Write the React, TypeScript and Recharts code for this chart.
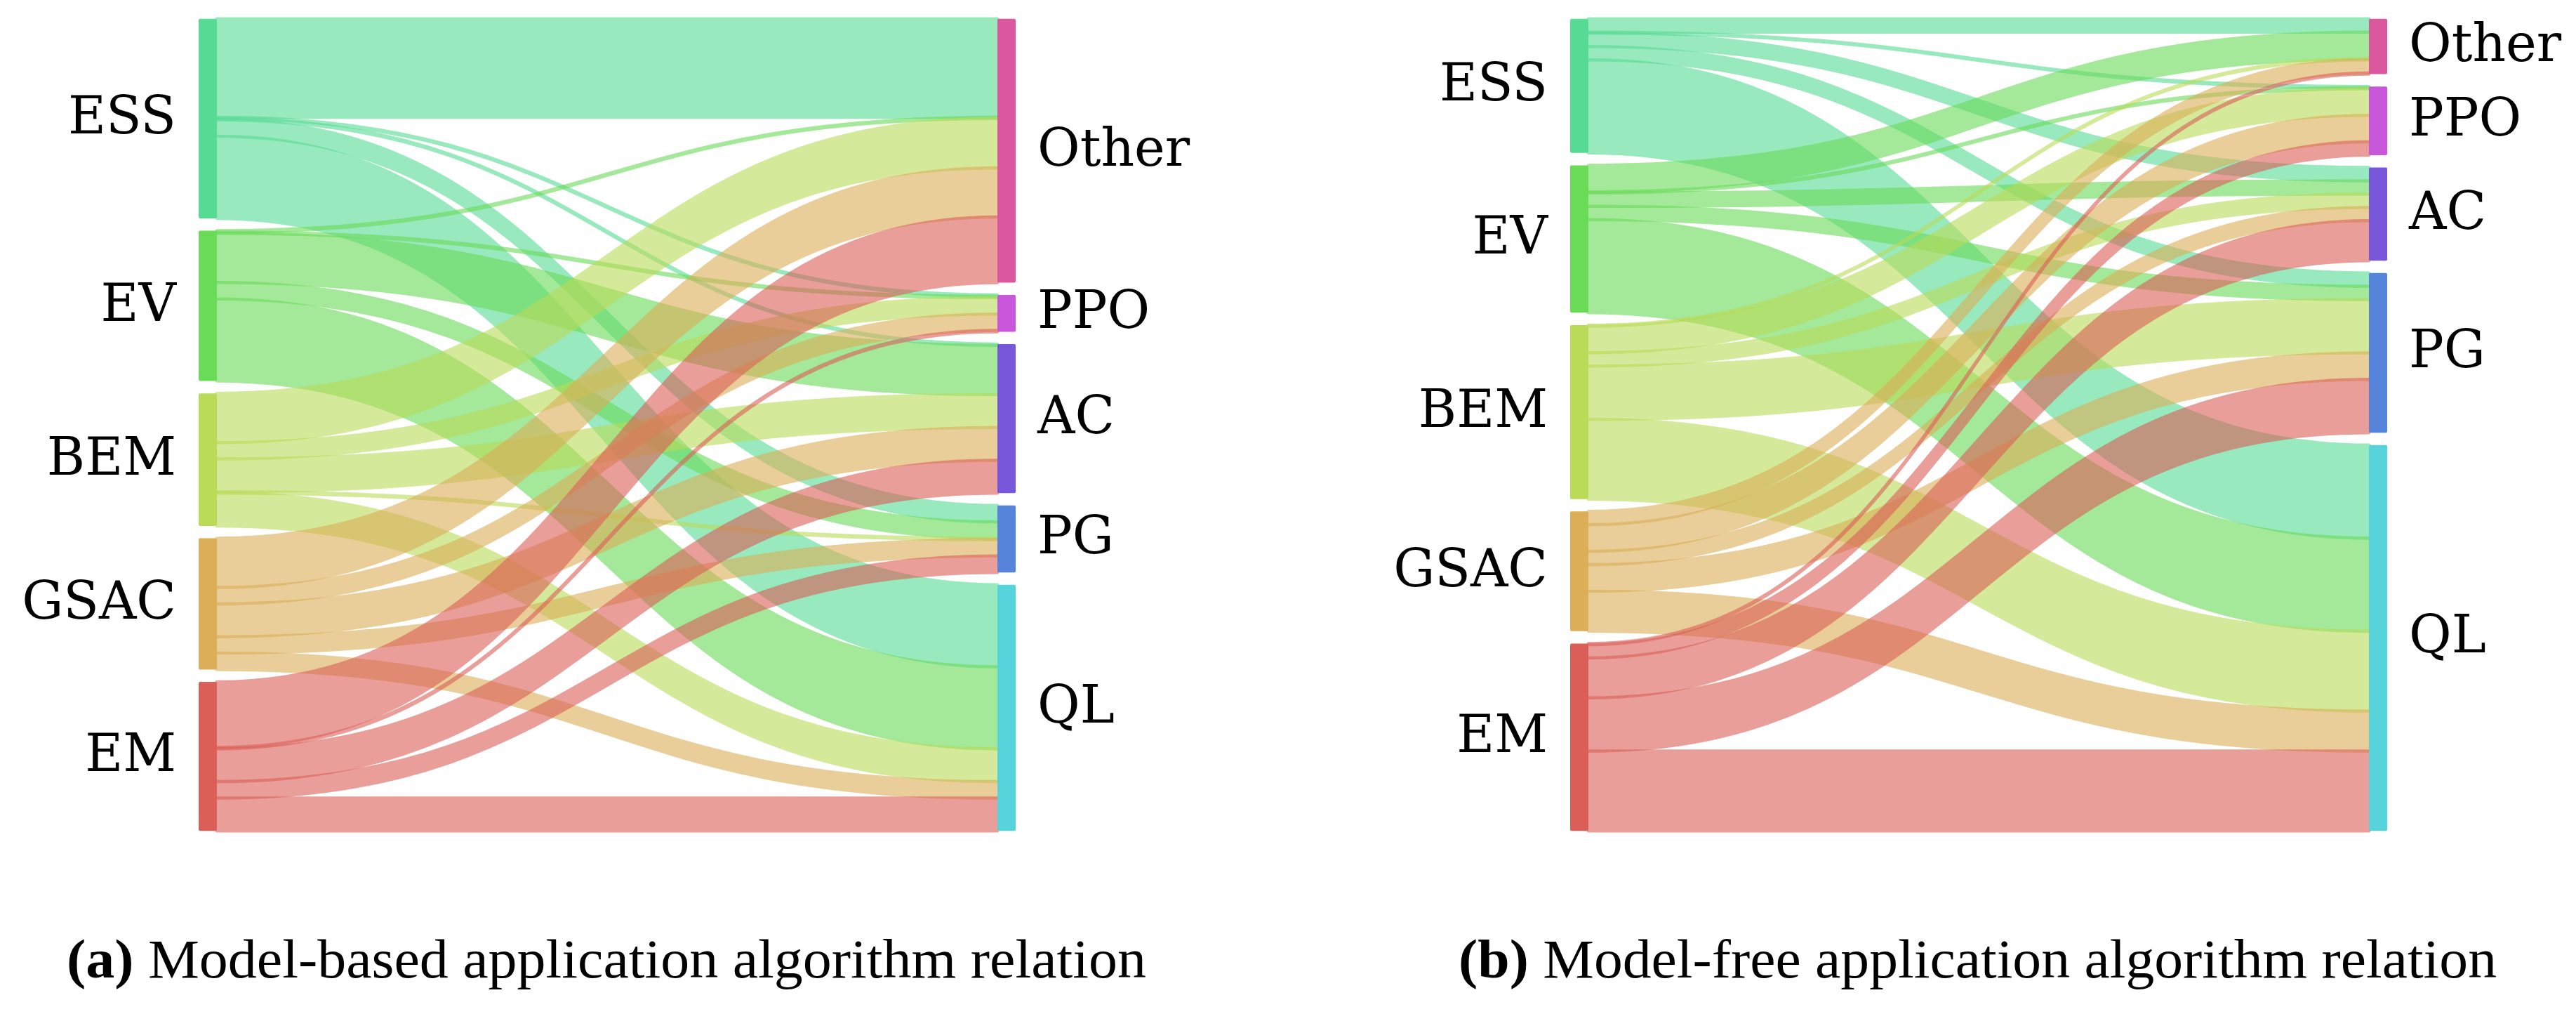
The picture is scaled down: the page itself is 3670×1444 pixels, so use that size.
import React from 'react';
import { Sankey } from 'recharts';

// Node categories
const SOURCES = ['ESS', 'EV', 'BEM', 'GSAC', 'EM'];
const TARGETS = ['Other', 'PPO', 'AC', 'PG', 'QL'];
const SOURCE_COLORS = ['#57db94', '#69db57', '#b9db57', '#dbae57', '#db5f57'];
const TARGET_COLORS = ['#db579e', '#c957db', '#7957db', '#5784db', '#57d3db'];

// Flow values: rows = application (source), columns = algorithm (target: Other, PPO, AC, PG, QL)
const MB_ESS = [6, 0.08, 0.08, 1, 5];
const MB_EV = [0.08, 0.08, 3, 1, 5];
const MB_BEM = [3, 1, 2, 0.08, 2];
const MB_GSAC = [3, 1, 2, 1, 1];
const MB_EM = [4, 0.08, 2, 1, 2];

const MF_ESS = [1, 0.08, 1, 1, 7];
const MF_EV = [2, 0.08, 1, 1, 7];
const MF_BEM = [0.08, 2, 1, 4, 6];
const MF_GSAC = [1, 2, 1, 2, 3];
const MF_EM = [0.08, 1, 3, 4, 6];

const MODEL_BASED = [MB_ESS, MB_EV, MB_BEM, MB_GSAC, MB_EM];
const MODEL_FREE = [MF_ESS, MF_EV, MF_BEM, MF_GSAC, MF_EM];

const CAPTION_TAGS = ['(a)', '(b)'];
const CAPTIONS = [
  'Model-based application algorithm relation',
  'Model-free application algorithm relation',
];

type LinkIn = { source: number; target: number; value: number };

function buildData(matrix: number[][]) {
  const nodes = [...SOURCES, ...TARGETS].map((name) => ({ name }));
  const links: LinkIn[] = [];
  matrix.forEach((row, s) =>
    row.forEach((v, t) => {
      if (v > 0) links.push({ source: s, target: SOURCES.length + t, value: v });
    })
  );
  return { nodes, links };
}

const LABEL_FONT = 'DejaVu Serif';

const NodeShape = (props: any) => {
  const { x, y, width, height, index } = props;
  const isSource = index < SOURCES.length;
  const color = isSource ? SOURCE_COLORS[index] : TARGET_COLORS[index - SOURCES.length];
  const name = isSource ? SOURCES[index] : TARGETS[index - SOURCES.length];
  return (
    <g>
      <rect x={x} y={y} width={width} height={height} fill={color} rx={2} ry={2} />
      <text
        x={isSource ? x - 32 : x + width + 31}
        y={y + height / 2 + 21}
        textAnchor={isSource ? 'end' : 'start'}
        fontFamily={LABEL_FONT}
        fontSize={74}
        fill="#000"
      >
        {name}
      </text>
    </g>
  );
};

const makeLink = (links: LinkIn[]) => (props: any) => {
  const { sourceX, targetX, sourceY, targetY, sourceControlX, targetControlX, linkWidth, index } = props;
  const s = links[index] ? links[index].source : 0;
  const color = SOURCE_COLORS[s];
  const h = linkWidth / 2;
  const d =
    `M${sourceX},${sourceY - h} ` +
    `C${sourceControlX},${sourceY - h} ${targetControlX},${targetY - h} ${targetX},${targetY - h} ` +
    `L${targetX},${targetY + h} ` +
    `C${targetControlX},${targetY + h} ${sourceControlX},${sourceY + h} ${sourceX},${sourceY + h} Z`;
  return (
    <path
      d={d}
      fill={color}
      stroke={color}
      strokeWidth={4.5}
      strokeLinejoin="round"
      opacity={0.6}
    />
  );
};

const CHART_W = 1716;
const CHART_H = 1210;
const MARGIN = { top: 26.8, right: 269, bottom: 26.8, left: 283 };

const SankeyPanel = ({ matrix, left }: { matrix: number[][]; left: number }) => {
  const data = buildData(matrix);
  return (
    <div style={{ position: 'absolute', left, top: 0, width: CHART_W, height: CHART_H }}>
      <Sankey
        width={CHART_W}
        height={CHART_H}
        data={data}
        nodeWidth={26}
        nodePadding={17.6}
        iterations={0}
        margin={MARGIN}
        node={NodeShape}
        link={makeLink(data.links)}
      />
    </div>
  );
};

export default function App() {
  return (
    <div
      style={{
        position: 'absolute',
        left: 0,
        top: 0,
        width: 3670,
        height: 1444,
        background: '#ffffff',
        overflow: 'hidden',
      }}
    >
      <SankeyPanel matrix={MODEL_BASED} left={0} />
      <SankeyPanel matrix={MODEL_FREE} left={1954} />
      <svg
        width={3670}
        height={1444}
        style={{ position: 'absolute', left: 0, top: 0, pointerEvents: 'none' }}
      >
        <text
          x={95}
          y={1392}
          fontFamily="Liberation Serif"
          fontSize={78}
          fill="#000"
          textLength={1538}
          lengthAdjust="spacingAndGlyphs"
        >
          <tspan fontWeight="bold">{CAPTION_TAGS[0]}</tspan>
          <tspan>{'\u00a0' + CAPTIONS[0]}</tspan>
        </text>
        <text
          x={2078}
          y={1392}
          fontFamily="Liberation Serif"
          fontSize={78}
          fill="#000"
          textLength={1479}
          lengthAdjust="spacingAndGlyphs"
        >
          <tspan fontWeight="bold">{CAPTION_TAGS[1]}</tspan>
          <tspan>{'\u00a0' + CAPTIONS[1]}</tspan>
        </text>
      </svg>
    </div>
  );
}
